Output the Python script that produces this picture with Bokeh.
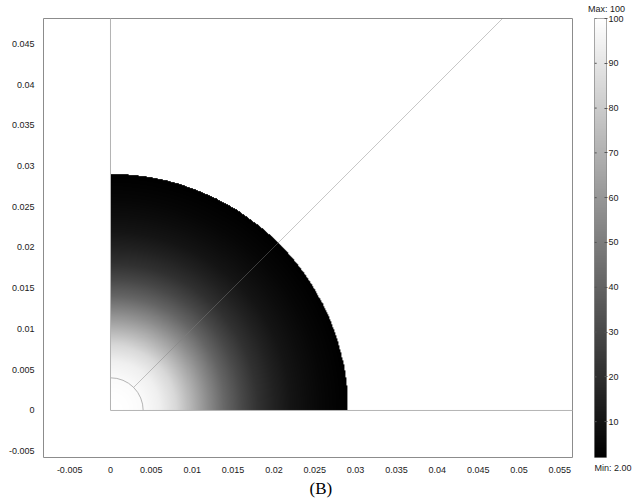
import numpy as np
from bokeh.plotting import figure
from bokeh.models import LinearColorMapper, LinearAxis, FixedTicker, Title, Range1d
from bokeh.layouts import row
from bokeh.palettes import Greys256
from bokeh.embed import file_html
from bokeh.resources import INLINE

# ---- data ----
radius_m = [0.0, 0.002, 0.004, 0.006, 0.008, 0.010, 0.012, 0.014, 0.016,
            0.018, 0.020, 0.022, 0.024, 0.026, 0.028, 0.029]
field_value = [100, 99.5, 98, 94, 85, 70, 55, 41, 30,
               21, 15, 10, 7, 4.5, 2.8, 2.0]
disk_radius = 0.029
inner_radius = 0.004
diagonal_angle_deg = 45.0
value_min = 2.0
value_max = 100.0

x_ticks = [-0.005, 0, 0.005, 0.01, 0.015, 0.02, 0.025, 0.03, 0.035, 0.04, 0.045, 0.05, 0.055]
x_tick_labels = ["-0.005", "0", "0.005", "0.01", "0.015", "0.02", "0.025", "0.03",
                 "0.035", "0.04", "0.045", "0.05", "0.055"]
y_ticks = [-0.005, 0, 0.005, 0.01, 0.015, 0.02, 0.025, 0.03, 0.035, 0.04, 0.045]
y_tick_labels = ["-0.005", "0", "0.005", "0.01", "0.015", "0.02", "0.025", "0.03",
                 "0.035", "0.04", "0.045"]
cbar_ticks = [10, 20, 30, 40, 50, 60, 70, 80, 90, 100]
caption = "(B)"

FONT = "Liberation Sans"
TICK_SIZE = "9px"
LINE_COLOR = "#b4b4b4"
TEXT_COLOR = "#1a1a1a"

mapper = LinearColorMapper(palette=Greys256, low=value_min, high=value_max,
                           nan_color="rgba(0,0,0,0)")

# ---- main plot ----
p = figure(width=580, height=502,
           x_range=Range1d(-0.0082, 0.05655), y_range=Range1d(-0.00577, 0.0481),
           output_backend="svg", toolbar_location=None,
           x_axis_location=None, y_axis_location=None,
           min_border_left=43, min_border_right=8, min_border_top=18, min_border_bottom=45)
p.xgrid.visible = False
p.ygrid.visible = False
p.outline_line_color = "#8c8c8c"
p.outline_line_width = 1
p.background_fill_color = "white"
p.border_fill_color = "white"

# radial field on a grid
N = 700
g = np.linspace(0, disk_radius, N)
GX, GY = np.meshgrid(g, g)
GR = np.hypot(GX, GY)
img = np.interp(GR, radius_m, field_value)
img[GR > disk_radius] = np.nan
p.image(image=[img], x=0, y=0, dw=disk_radius, dh=disk_radius, color_mapper=mapper)

# geometry lines
p.segment(x0=[0, 0], y0=[0, 0], x1=[0, 0.1], y1=[0.1, 0], line_color=LINE_COLOR, line_width=1)
p.arc(x=0, y=0, radius=inner_radius, start_angle=0, end_angle=np.pi / 2,
      line_color=LINE_COLOR, line_width=1)
ang = np.radians(diagonal_angle_deg)
p.ray(x=[inner_radius * np.cos(ang)], y=[inner_radius * np.sin(ang)], length=0, angle=ang,
      line_color="#808080", line_alpha=0.45, line_width=1)

def style_axis(ax, standoff=3):
    ax.axis_line_color = None
    ax.major_tick_line_color = None
    ax.minor_tick_line_color = None
    ax.major_label_standoff = standoff
    ax.major_label_text_font = FONT
    ax.major_label_text_font_size = TICK_SIZE
    ax.major_label_text_color = TEXT_COLOR

xax = LinearAxis(ticker=FixedTicker(ticks=x_ticks),
                 major_label_overrides=dict(zip(x_ticks, x_tick_labels)))
style_axis(xax)
p.add_layout(xax, "below")
yax = LinearAxis(ticker=FixedTicker(ticks=y_ticks),
                 major_label_overrides=dict(zip(y_ticks, y_tick_labels)))
style_axis(yax)
p.add_layout(yax, "left")

p.add_layout(Title(text=caption, align="left", offset=266, standoff=2,
                   text_font="Liberation Serif", text_font_size="17px",
                   text_font_style="normal", text_color="black"), "below")

# ---- colour bar ----
cb = figure(width=60, height=502,
            x_range=Range1d(0, 1), y_range=Range1d(value_min, value_max),
            output_backend="svg", toolbar_location=None,
            x_axis_location=None, y_axis_location=None,
            min_border_left=14, min_border_right=34, min_border_top=18, min_border_bottom=45)
cb.xgrid.visible = False
cb.ygrid.visible = False
cb.outline_line_color = "#8c8c8c"
cb.border_fill_color = "white"
ramp = np.linspace(value_min, value_max, 256).reshape(-1, 1)
cb.image(image=[ramp], x=0, y=value_min, dw=1, dh=value_max - value_min, color_mapper=mapper)
n = len(cbar_ticks)
# small tick dashes on the left edge of the bar
cb.segment(x0=[0] * n, x1=[0.18] * n, y0=cbar_ticks, y1=cbar_ticks,
           line_color="#555555", line_width=1)

cax = LinearAxis(ticker=FixedTicker(ticks=cbar_ticks))
style_axis(cax, standoff=1)
cax.major_tick_line_color = "#555555"
cax.major_tick_in = 2
cax.major_tick_out = 1
cb.add_layout(cax, "right")

# "Max" label above the bar
max_ax = LinearAxis(ticker=FixedTicker(ticks=[1]),
                    major_label_overrides={1: f"Max: {value_max:g}"})
style_axis(max_ax, standoff=5)
max_ax.major_tick_in = 0
max_ax.major_tick_out = 0
cb.add_layout(max_ax, "above")

cb.add_layout(Title(text=f"Min: {value_min:.2f}", align="left", standoff=6,
                    vertical_align="bottom",
                    text_font=FONT, text_font_size=TICK_SIZE, text_font_style="normal",
                    text_color=TEXT_COLOR), "below")

layout = row(p, cb, spacing=0)
open("out.html", "w").write(file_html(layout, INLINE))
